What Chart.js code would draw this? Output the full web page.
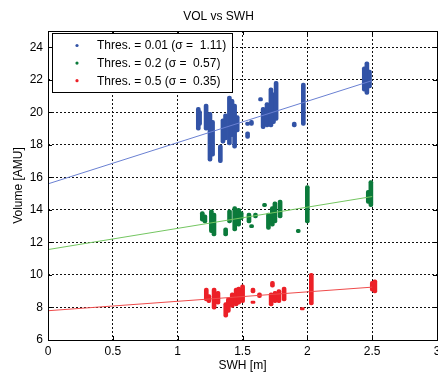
<!DOCTYPE html>
<html>
<head>
<meta charset="utf-8">
<script src="https://cdn.jsdelivr.net/npm/chart.js@4.4.1/dist/chart.umd.min.js"></script>
<style>
  html, body { margin: 0; padding: 0; background: #fff; }
  #wrap { width: 438px; height: 373px; }
</style>
</head>
<body>
<div id="wrap"><canvas id="cnv"></canvas></div>
<script>
// ---- data ----
const xTickLabels = ['0', '0.5', '1', '1.5', '2', '2.5', '3'];
const yTicks = [6, 8, 10, 12, 14, 16, 18, 20, 22, 24];

const seriesNames = ['Thres. = 0.01 (\u03c3 =  1.11)', 'Thres. = 0.2 (\u03c3 =  0.57)', 'Thres. = 0.5 (\u03c3 =  0.35)'];

// streaks of points: swh, lowest volume, highest volume
const blueX  = [1.19, 1.20, 1.25, 1.28, 1.30, 1.36, 1.38, 1.40, 1.43, 1.45, 1.47, 1.49, 1.57, 1.57, 1.60, 1.67, 1.69, 1.72, 1.75, 1.77, 1.79, 1.93, 2.00, 2.47, 2.49, 2.51];
const blueLo = [18.9, 19.2, 18.9, 17.0, 17.3, 16.9, 18.1, 18.3, 18.0, 18.5, 17.8, 18.8, 18.4, 19.2, 19.2, 20.7, 19.0, 19.1, 19.1, 19.3, 19.5, 19.1, 19.2, 21.3, 21.1, 21.5];
const blueHi = [20.3, 20.1, 20.5, 20.0, 19.5, 18.0, 19.6, 19.9, 21.0, 20.8, 20.5, 19.8, 18.8, 19.4, 19.5, 20.9, 20.3, 20.6, 21.5, 21.2, 21.9, 19.4, 21.8, 22.8, 23.1, 22.6];

const greenX  = [1.19, 1.21, 1.26, 1.28, 1.37, 1.40, 1.44, 1.47, 1.49, 1.55, 1.57, 1.60, 1.67, 1.70, 1.73, 1.75, 1.79, 1.93, 2.00, 2.47, 2.49];
const greenLo = [13.3, 13.2, 12.6, 12.4, 12.4, 13.2, 12.7, 13.0, 13.4, 13.2, 12.9, 13.5, 14.2, 12.8, 13.0, 13.2, 13.5, 12.6, 13.2, 14.4, 14.2];
const greenHi = [13.9, 13.7, 14.0, 13.8, 12.9, 14.0, 14.2, 14.1, 13.9, 13.8, 13.1, 13.8, 14.4, 13.8, 14.2, 14.5, 14.6, 12.8, 15.5, 15.2, 15.8];

const redX  = [1.19, 1.21, 1.25, 1.28, 1.34, 1.36, 1.39, 1.42, 1.44, 1.47, 1.55, 1.55, 1.60, 1.70, 1.69, 1.72, 1.75, 1.79, 1.93, 2.00, 2.47, 2.49];
const redLo = [8.4, 8.3, 7.9, 8.2, 7.4, 7.7, 8.0, 8.1, 8.2, 8.3, 8.9, 8.25, 8.6, 9.25, 8.1, 8.3, 8.3, 8.4, 7.85, 8.15, 9.0, 8.9];
const redHi = [9.2, 8.8, 9.2, 9.0, 8.3, 8.6, 8.9, 9.2, 9.25, 9.4, 9.2, 8.4, 8.9, 9.6, 8.9, 9.0, 9.1, 9.25, 8.0, 10.1, 9.6, 9.7];

// fitted lines
const fitX     = [0, 2.5];
const blueFit  = [15.6, 21.95];
const greenFit = [11.56, 14.82];
const redFit   = [7.8, 9.25];

// ---- colours ----
const markerColors = ['#3253a6', '#0b7a3b', '#ec2027'];
const lineColors   = ['#6a80d2', '#74c661', '#ef4b4b'];

const streaks = (xs, lo, hi) => xs.map((x, i) => ({ x, y: [lo[i], hi[i]] }));
const fit = ys => fitX.map((x, i) => ({ x, y: ys[i] }));

const barSet = (label, data, color) => ({
  type: 'bar', label, data,
  backgroundColor: color, borderWidth: 0,
  barThickness: 4, borderRadius: 2, borderSkipped: false, order: 2
});
const lineSet = (data, color) => ({
  type: 'line', label: '', data,
  borderColor: color, borderWidth: 1, pointRadius: 0, fill: false, order: 1
});

const FONT = '"Liberation Sans", Arial, Helvetica, sans-serif';

// frame, inward ticks and legend box (matlab style)
const framePlugin = {
  id: 'frame',
  afterDraw(chart) {
    const { ctx, chartArea: a, scales: { x, y } } = chart;
    ctx.save();
    ctx.strokeStyle = '#000';
    ctx.lineWidth = 1;
    ctx.strokeRect(Math.round(a.left) + 0.5, Math.round(a.top) + 0.5, Math.round(a.right - a.left), Math.round(a.bottom - a.top));
    ctx.beginPath();
    xTickLabels.forEach(t => {
      const px = Math.round(x.getPixelForValue(+t)) + 0.5;
      ctx.moveTo(px, a.bottom); ctx.lineTo(px, a.bottom - 4);
      ctx.moveTo(px, a.top); ctx.lineTo(px, a.top + 4);
    });
    yTicks.forEach(v => {
      const py = Math.round(y.getPixelForValue(v)) + 0.5;
      ctx.moveTo(a.left, py); ctx.lineTo(a.left + 4, py);
      ctx.moveTo(a.right, py); ctx.lineTo(a.right - 4, py);
    });
    ctx.stroke();

    // legend
    const lx = a.left + 4, ly = a.top + 2, lw = 180, lh = 59;
    ctx.fillStyle = '#fff';
    ctx.fillRect(lx, ly, lw, lh);
    ctx.strokeRect(Math.round(lx) + 0.5, Math.round(ly) + 0.5, lw, lh);
    ctx.font = '12px ' + FONT;
    ctx.textBaseline = 'middle';
    seriesNames.forEach((name, i) => {
      const ry = ly + 12.5 + i * 17.6;
      ctx.fillStyle = markerColors[i];
      ctx.beginPath();
      ctx.arc(lx + 25, ry, 1.6, 0, Math.PI * 2);
      ctx.fill();
      ctx.fillStyle = '#000';
      ctx.fillText(name, lx + 45, ry + 0.5);
    });
    ctx.restore();
  }
};

new Chart('cnv', {
  data: {
    datasets: [
      barSet(seriesNames[0], streaks(blueX, blueLo, blueHi), markerColors[0]),
      barSet(seriesNames[1], streaks(greenX, greenLo, greenHi), markerColors[1]),
      barSet(seriesNames[2], streaks(redX, redLo, redHi), markerColors[2]),
      lineSet(fit(blueFit), lineColors[0]),
      lineSet(fit(greenFit), lineColors[1]),
      lineSet(fit(redFit), lineColors[2])
    ]
  },
  options: {
    responsive: true,
    maintainAspectRatio: false,
    animation: false,
    layout: { padding: { left: 0, right: 1, top: 0, bottom: 0 } },
    plugins: {
      legend: { display: false },
      tooltip: { enabled: false },
      title: {
        display: true, text: 'VOL vs SWH', color: '#000',
        font: { family: FONT, size: 12, weight: 'normal' },
        padding: { top: 9, bottom: 7.6 }
      }
    },
    scales: {
      x: {
        type: 'linear', min: 0, max: 3, offset: false,
        afterBuildTicks: s => { s.ticks = xTickLabels.map(t => ({ value: +t })); },
        afterFit: s => { s.height = 33; s.paddingLeft = 0; s.paddingRight = 0; },
        ticks: {
          color: '#000', padding: 4, maxRotation: 0, autoSkip: false,
          font: { family: FONT, size: 12 },
          callback: (v, i) => xTickLabels[i]
        },
        grid: { color: '#111', lineWidth: 1, drawTicks: false, offset: false },
        border: { display: false, dash: [2, 2] },
        title: { display: true, text: 'SWH [m]', color: '#000', font: { family: FONT, size: 12 }, padding: { top: 0, bottom: 0 } }
      },
      y: {
        type: 'linear', min: 6, max: 25,
        afterBuildTicks: s => { s.ticks = yTicks.map(v => ({ value: v })); },
        afterFit: s => { s.width = 48; s.paddingTop = 0; s.paddingBottom = 0; },
        ticks: { color: '#000', padding: 5, font: { family: FONT, size: 12 } },
        grid: { color: '#111', lineWidth: 1, drawTicks: false },
        border: { display: false, dash: [2, 2] },
        title: { display: true, text: 'Volume [AMU]', color: '#000', font: { family: FONT, size: 12 }, padding: { top: 11, bottom: 0 } }
      }
    }
  },
  plugins: [framePlugin]
});
</script>
</body>
</html>
